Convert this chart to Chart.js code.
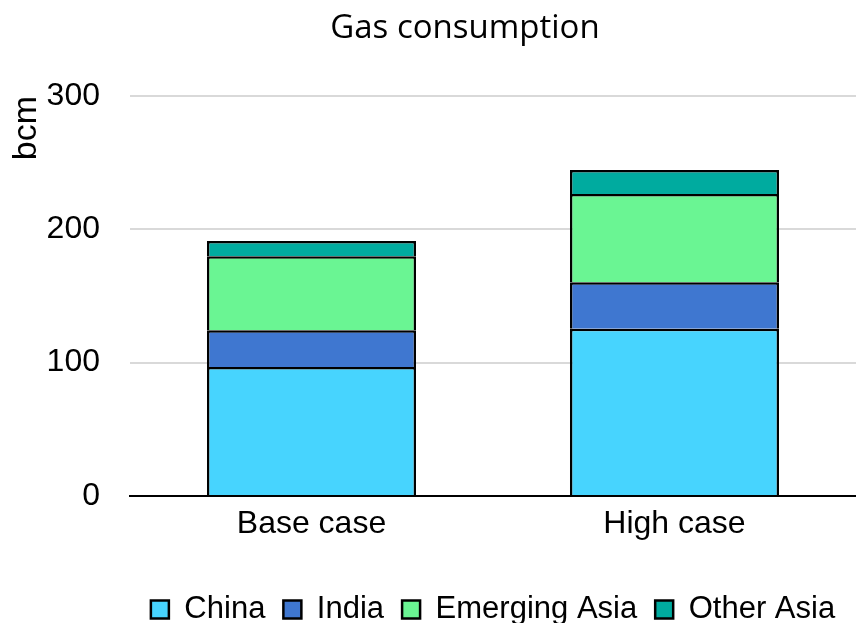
<!DOCTYPE html>
<html>
<head>
<meta charset="utf-8">
<script src="https://cdn.jsdelivr.net/npm/chart.js@4"></script>
<style>
  html, body { margin: 0; padding: 0; background: #ffffff; }
  #wrap { width: 856px; height: 623px; }
</style>
</head>
<body>
<div id="wrap"><canvas id="c" width="856" height="623"></canvas></div>
<script>
// Gas consumption by region, in bcm
const categories = ["Base case", "High case"];
const china = [96.8, 125.4];
const india = [27.5, 35.0];
const emergingAsia = [55.5, 66.1];
const otherAsia = [11.4, 18.0];
const yTicks = [0, 100, 200, 300];

const seriesNames = ["China", "India", "Emerging Asia", "Other Asia"];
const seriesColors = ["#47D4FE", "#3F77D0", "#6AF593", "#00AB9F"];
const seriesValues = [china, india, emergingAsia, otherAsia];

const sans = "'Liberation Sans', Arial, sans-serif";
const tickFont = { family: sans, size: 32 };

// Chart heading drawn over the canvas
const headingPlugin = {
  id: "heading",
  afterDraw(chart) {
    const ctx = chart.ctx;
    ctx.save();
    ctx.font = "33px 'Open Sans', 'Noto Sans', sans-serif";
    ctx.fillStyle = "#000000";
    ctx.textAlign = "center";
    ctx.textBaseline = "middle";
    ctx.fillText("Gas consumption", 465, 29);
    ctx.restore();
  }
};

new Chart(document.getElementById("c"), {
  type: "bar",
  data: {
    labels: categories,
    datasets: seriesNames.map((name, i) => ({
      label: name,
      data: seriesValues[i],
      backgroundColor: seriesColors[i],
      borderColor: "#000000",
      borderWidth: 2.5,
      // each segment sits on the one below, so its bottom edge is left to that segment's top edge
      borderSkipped: "start",
      barPercentage: 0.576,
      categoryPercentage: 1.0
    }))
  },
  options: {
    responsive: false,
    animation: false,
    devicePixelRatio: 1,
    layout: { padding: { top: 96, right: 0, bottom: -12, left: 0 } },
    scales: {
      x: {
        stacked: true,
        afterFit(axis) { axis.height = 80; },
        grid: { display: false, drawTicks: false },
        border: { display: true, color: "#000000", width: 2 },
        ticks: { color: "#000000", font: tickFont, padding: 9 }
      },
      y: {
        stacked: true,
        min: 0,
        max: 300,
        afterBuildTicks(axis) { axis.ticks = yTicks.map(v => ({ value: v })); },
        afterFit(axis) { axis.width = 130; },
        grid: { color: "#D9D9D9", lineWidth: 2, drawTicks: false },
        border: { display: false },
        ticks: { color: "#000000", font: tickFont, padding: 30 },
        title: {
          display: true,
          text: "bcm",
          align: "end",
          color: "#000000",
          font: { family: sans, size: 34 },
          padding: { top: 6, bottom: 0 }
        }
      }
    },
    plugins: {
      title: { display: false },
      tooltip: { enabled: false },
      legend: {
        position: "bottom",
        fullSize: false,
        labels: {
          color: "#000000",
          font: { family: sans, size: 31 },
          boxWidth: 18,
          boxHeight: 18,
          padding: 18
        }
      }
    }
  },
  plugins: [headingPlugin]
});
</script>
</body>
</html>
